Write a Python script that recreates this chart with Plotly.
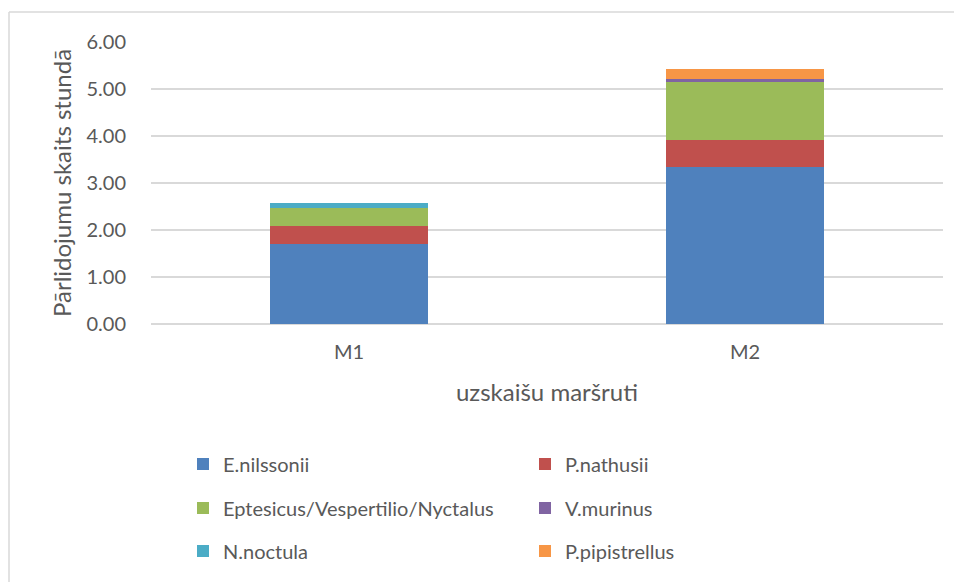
import plotly.graph_objects as go

categories = ["M1", "M2"]
species = ["E.nilssonii", "P.nathusii", "Eptesicus/Vespertilio/Nyctalus",
           "V.murinus", "N.noctula", "P.pipistrellus"]
e_nilssonii = [1.70, 3.33]
p_nathusii = [0.38, 0.58]
eptesicus = [0.39, 1.23]
v_murinus = [0.00, 0.08]
n_noctula = [0.10, 0.00]
p_pipistrellus = [0.00, 0.20]
colors = ["#4F81BD", "#C0504D", "#9BBB59", "#8064A2", "#4BACC6", "#F79646"]
y_ticks = [0, 1, 2, 3, 4, 5, 6]

series = [e_nilssonii, p_nathusii, eptesicus, v_murinus, n_noctula, p_pipistrellus]
legend_ids = ["legend", "legend", "legend2", "legend2", "legend3", "legend3"]

FONT = "Lato"
GREY = "#595959"

fig = go.Figure()
for name, vals, col, lg in zip(species, series, colors, legend_ids):
    fig.add_trace(go.Bar(x=categories, y=vals, name=name, marker_color=col,
                         marker_line_width=0, legend=lg))

OFF = 8  # page body margin
W, H = 962 - OFF, 582 - OFF
# plot area in screen pixels: x 151..943, y 42..324
L, T = 151 - OFF, 42 - OFF
R = W - (943 - OFF)
B = H - (324 - OFF)
pw, ph = W - L - R, H - T - B

def px(sx):
    return (sx - OFF - L) / pw

def py(sy):
    return 1 - (sy - OFF - T) / ph

leg_common = dict(orientation="h", entrywidth=297, entrywidthmode="pixels",
                  font=dict(family=FONT, size=20, color=GREY),
                  bgcolor="rgba(0,0,0,0)", xanchor="left", yanchor="middle",
                  itemclick=False, traceorder="normal")

fig.update_layout(
    width=W, height=H,
    margin=dict(l=L, r=R, t=T, b=B, autoexpand=False),
    barmode="stack", bargap=0.6,
    plot_bgcolor="white", paper_bgcolor="white",
    font=dict(family=FONT, color=GREY),
    legend=dict(x=px(183), y=py(464), **leg_common),
    legend2=dict(x=px(183), y=py(508), **leg_common),
    legend3=dict(x=px(183), y=py(551), **leg_common),
    xaxis=dict(
        showgrid=False, showline=False, ticks="", automargin=False,
        tickfont=dict(family=FONT, size=20, color=GREY), ticklabelstandoff=14,
        title=dict(text="uzskaišu maršruti", font=dict(family=FONT, size=24, color=GREY), standoff=22),
    ),
    yaxis=dict(
        range=[0, 6], tickvals=y_ticks, tickformat=".2f", automargin=False,
        showgrid=True, gridcolor="#D9D9D9", gridwidth=1.5,
        zeroline=True, zerolinecolor="#D9D9D9", zerolinewidth=1.5,
        showline=False, ticks="", ticklabelstandoff=24,
        tickfont=dict(family=FONT, size=20, color=GREY),
        title=dict(text="Pārlidojumu skaits stundā", font=dict(family=FONT, size=24, color=GREY), standoff=8),
    ),
    showlegend=True,
)

# chart frame (top and left border)
fig.add_shape(type="line", xref="paper", yref="paper",
              x0=px(9), x1=px(962), y0=py(12), y1=py(12),
              line=dict(color="#D9D9D9", width=1.5))
fig.add_shape(type="line", xref="paper", yref="paper",
              x0=px(9), x1=px(9), y0=py(12), y1=py(582),
              line=dict(color="#D9D9D9", width=1.5))

fig.write_html("out.html")
